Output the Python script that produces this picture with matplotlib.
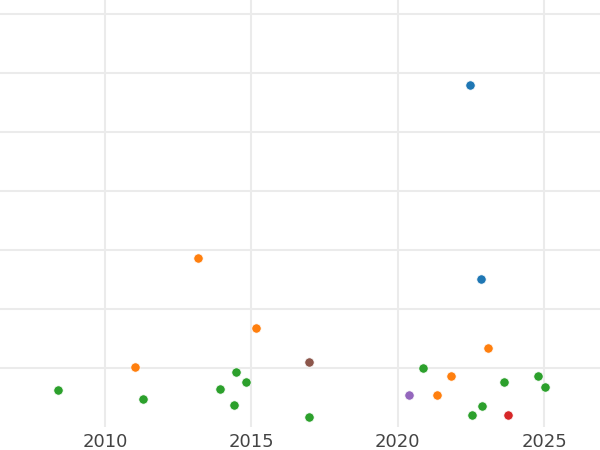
import pandas as pd
import matplotlib
matplotlib.use('Agg')
import matplotlib.pyplot as plt
import matplotlib.dates as mdates

# one list per colour group: dates and values
blue_dates = ['2022-06-24', '2022-11-09']
blue_vals = [5.79, 2.50]

orange_dates = ['2013-03-10', '2015-02-24', '2011-01-14', '2023-02-04',
                '2021-10-23', '2021-05-05']
orange_vals = [2.86, 1.67, 1.01, 1.34, 0.86, 0.55]

green_dates = ['2008-05-28', '2011-04-22', '2013-12-08', '2014-06-22',
               '2014-10-25', '2014-05-25', '2016-12-20', '2020-11-15',
               '2023-08-22', '2024-10-13', '2025-01-16', '2022-11-13',
               '2022-07-15']
green_vals = [0.63, 0.48, 0.64, 0.94, 0.76, 0.37, 0.17, 1.00,
              0.76, 0.86, 0.67, 0.36, 0.20]

red_dates = ['2023-10-12']
red_vals = [0.20]

purple_dates = ['2020-05-25']
purple_vals = [0.55]

brown_dates = ['2016-12-16']
brown_vals = [1.10]

groups = [
    (blue_dates, blue_vals, '#1f77b4'),
    (orange_dates, orange_vals, '#ff7f0e'),
    (green_dates, green_vals, '#2ca02c'),
    (red_dates, red_vals, '#d62728'),
    (purple_dates, purple_vals, '#9467bd'),
    (brown_dates, brown_vals, '#8c564b'),
]

fig = plt.figure(figsize=(6, 4.5), dpi=100)
ax = fig.add_axes([0, 23 / 450, 1, 1 - 23 / 450])

for dates, vals, col in groups:
    ax.scatter(pd.to_datetime(dates), vals, s=45, color=col,
               edgecolor='white', linewidth=0.5, zorder=3)

ax.set_xlim(pd.Timestamp('2006-05-30'), pd.Timestamp('2026-11-28'))
ax.set_ylim(0, 7.237)
ax.set_yticks(range(1, 8))
ax.set_yticklabels([])
ax.xaxis.set_major_locator(mdates.YearLocator(5))
ax.xaxis.set_major_formatter(mdates.DateFormatter('%Y'))

ax.grid(True, color='#ebebeb', linewidth=1.5)
ax.set_axisbelow(True)
for s in ax.spines.values():
    s.set_visible(False)
ax.tick_params(length=0, labelsize=13, labelcolor='#444444', pad=4)

fig.savefig('out.png', dpi=100)
